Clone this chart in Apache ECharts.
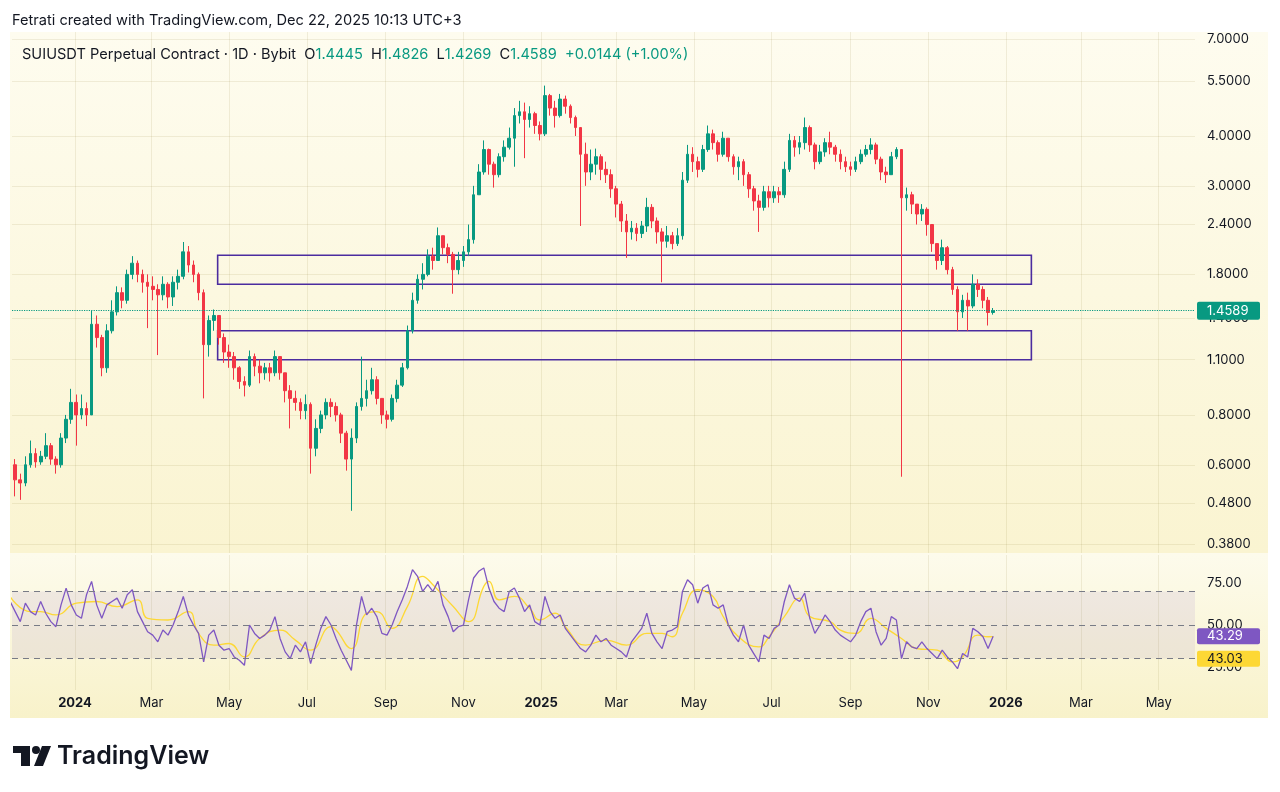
<!DOCTYPE html>
<html>
<head>
<meta charset="utf-8">
<title>SUIUSDT Perpetual Contract · 1D · Bybit</title>
<script src="https://cdn.jsdelivr.net/npm/echarts@6/dist/echarts.min.js"></script>
<style>
html, body { margin: 0; padding: 0; background: #fff; }
#chart { width: 1280px; height: 792px; }
</style>
</head>
<body>
<div id="chart"></div>
<script>
// 4-day candles, first bar 2023-11-11, last 2025-12-22
var firstBar = '2023-11-11';
var barDays = 4;
var firstOpen = 0.62;
var closes = [
	0.60, 0.55, 0.54, 0.60, 0.64, 0.61, 0.63, 0.67, 0.62, 0.60,
	0.70, 0.78, 0.86, 0.80, 0.83, 0.80, 1.35, 1.25, 1.05, 1.30,
	1.45, 1.62, 1.55, 1.80, 1.92, 1.80, 1.72, 1.68, 1.65, 1.60,
	1.70, 1.58, 1.72, 1.78, 2.05, 1.90, 1.80, 1.62, 1.20, 1.38,
	1.42, 1.25, 1.15, 1.12, 1.05, 0.97, 0.95, 1.12, 1.06, 1.02,
	1.05, 1.02, 1.12, 1.02, 0.92, 0.88, 0.86, 0.82, 0.85, 0.66,
	0.74, 0.80, 0.86, 0.84, 0.80, 0.72, 0.62, 0.70, 0.84, 0.88,
	0.92, 0.98, 0.88, 0.80, 0.78, 0.88, 0.95, 1.05, 1.30, 1.55,
	1.75, 1.80, 2.00, 1.95, 2.25, 2.10, 2.02, 1.85, 1.95, 2.05,
	2.20, 2.85, 3.25, 3.70, 3.40, 3.20, 3.55, 3.75, 3.95, 4.50,
	4.60, 4.40, 4.55, 4.25, 4.05, 5.05, 4.70, 4.50, 4.95, 4.75,
	4.45, 4.20, 3.60, 3.25, 3.40, 3.55, 3.30, 3.20, 2.95, 2.70,
	2.45, 2.30, 2.35, 2.28, 2.38, 2.65, 2.45, 2.30, 2.18, 2.25,
	2.15, 2.25, 3.10, 3.60, 3.45, 3.30, 3.70, 4.05, 3.85, 3.60,
	3.95, 3.55, 3.35, 3.45, 3.20, 2.95, 2.75, 2.65, 2.90, 2.80,
	2.90, 2.85, 3.30, 3.90, 3.75, 3.85, 4.20, 3.80, 3.45, 3.65,
	3.85, 3.75, 3.60, 3.45, 3.35, 3.30, 3.45, 3.60, 3.70, 3.80,
	3.50, 3.25, 3.20, 3.55, 3.70, 2.80, 2.85, 2.70, 2.55, 2.62,
	2.40, 2.15, 1.95, 2.10, 1.85, 1.65, 1.45, 1.55, 1.50, 1.70,
	1.65, 1.55, 1.4445, 1.4589
];
var highs = [
	0.68, 0.62, 0.57, 0.63, 0.69, 0.66, 0.65, 0.72, 0.68, 0.63,
	0.72, 0.80, 0.93, 0.90, 0.90, 0.86, 1.46, 1.42, 1.27, 1.35,
	1.55, 1.68, 1.67, 1.85, 2.00, 1.95, 1.85, 1.80, 1.78, 1.70,
	1.78, 1.72, 1.78, 1.85, 2.17, 2.12, 1.95, 1.82, 1.65, 1.42,
	1.47, 1.42, 1.28, 1.20, 1.15, 1.06, 1.00, 1.16, 1.14, 1.10,
	1.08, 1.08, 1.16, 1.12, 1.02, 0.95, 0.92, 0.88, 0.90, 0.86,
	0.78, 0.82, 0.88, 0.88, 0.86, 0.81, 0.73, 0.74, 0.86, 1.12,
	0.98, 1.05, 1.00, 0.88, 0.82, 0.90, 0.98, 1.08, 1.34, 1.62,
	1.80, 1.92, 2.08, 2.10, 2.36, 2.25, 2.15, 2.05, 2.05, 2.12,
	2.40, 3.00, 3.40, 3.90, 3.72, 3.45, 3.62, 3.90, 4.20, 4.70,
	4.90, 4.85, 4.75, 4.60, 4.35, 5.35, 5.10, 4.90, 5.10, 5.05,
	4.80, 4.50, 4.20, 3.85, 3.70, 3.72, 3.60, 3.45, 3.30, 3.00,
	2.75, 2.55, 2.45, 2.42, 2.45, 2.80, 2.70, 2.50, 2.35, 2.38,
	2.30, 2.35, 3.25, 3.80, 3.75, 3.55, 3.80, 4.25, 4.15, 3.90,
	4.10, 3.95, 3.60, 3.55, 3.50, 3.25, 3.00, 2.85, 3.00, 3.00,
	3.00, 2.98, 3.45, 4.05, 4.00, 4.00, 4.45, 4.25, 3.85, 3.80,
	3.95, 4.10, 3.80, 3.70, 3.55, 3.45, 3.55, 3.70, 3.80, 3.95,
	3.85, 3.55, 3.35, 3.65, 3.75, 3.70, 2.97, 2.90, 2.70, 2.70,
	2.65, 2.35, 2.15, 2.20, 2.12, 1.88, 1.68, 1.60, 1.62, 1.80,
	1.75, 1.68, 1.58, 1.4826
];
var lows = [
	0.56, 0.50, 0.49, 0.53, 0.59, 0.59, 0.60, 0.62, 0.60, 0.57,
	0.59, 0.68, 0.76, 0.67, 0.78, 0.75, 0.80, 1.18, 1.00, 1.02,
	1.28, 1.42, 1.48, 1.52, 1.75, 1.72, 1.62, 1.32, 1.55, 1.13,
	1.55, 1.48, 1.50, 1.65, 1.75, 1.82, 1.72, 1.55, 0.88, 1.12,
	1.30, 1.20, 1.08, 1.05, 0.98, 0.93, 0.89, 0.94, 1.00, 0.96,
	0.98, 0.97, 1.00, 0.98, 0.86, 0.74, 0.82, 0.78, 0.78, 0.57,
	0.63, 0.72, 0.78, 0.79, 0.77, 0.68, 0.58, 0.46, 0.68, 0.82,
	0.84, 0.90, 0.85, 0.76, 0.74, 0.77, 0.86, 0.94, 1.04, 1.28,
	1.52, 1.65, 1.78, 1.85, 1.95, 2.02, 1.92, 1.61, 1.80, 1.88,
	2.00, 2.15, 2.85, 3.20, 3.20, 2.97, 3.15, 3.45, 3.70, 3.35,
	4.30, 3.52, 4.20, 4.05, 3.90, 4.00, 4.50, 4.20, 4.45, 4.55,
	4.30, 4.00, 2.38, 3.00, 3.10, 3.20, 3.10, 3.05, 2.80, 2.50,
	2.30, 1.98, 2.20, 2.18, 2.22, 2.30, 2.35, 2.15, 1.72, 2.10,
	2.08, 2.12, 2.20, 3.05, 3.25, 3.15, 3.25, 3.65, 3.70, 3.45,
	3.55, 3.45, 3.20, 3.10, 3.00, 2.80, 2.60, 2.30, 2.60, 2.65,
	2.72, 2.72, 2.80, 3.25, 3.55, 3.60, 3.70, 3.65, 3.30, 3.40,
	3.55, 3.60, 3.45, 3.30, 3.25, 3.18, 3.25, 3.40, 3.55, 3.60,
	3.40, 3.10, 3.05, 3.20, 3.50, 0.56, 2.60, 2.55, 2.40, 2.45,
	2.25, 2.05, 1.85, 1.90, 1.80, 1.60, 1.30, 1.40, 1.30, 1.48,
	1.58, 1.48, 1.34, 1.4269
];
// RSI 14 per bar, and its moving average read at the marked bars
var rsi = [
	64, 58, 52, 63, 58, 56, 64, 57, 52, 49,
	62, 72, 62, 56, 54, 68, 76, 62, 54, 62,
	64, 66, 60, 68, 71, 58, 52, 46, 44, 40,
	47, 44, 50, 58, 67, 56, 50, 45, 28, 44,
	47, 38, 35, 36, 31, 29, 26, 50, 45, 42,
	44, 47, 55, 42, 34, 30, 38, 34, 40, 27,
	38, 48, 55, 50, 42, 35, 29, 23, 50, 67,
	56, 60, 55, 45, 44, 50, 58, 65, 73, 83,
	79, 70, 74, 70, 76, 62, 55, 46, 49, 50,
	65, 78, 82, 84, 72, 64, 60, 58, 70, 72,
	66, 58, 62, 52, 50, 67, 58, 54, 56, 48,
	44, 40, 36, 34, 38, 44, 40, 42, 38, 36,
	34, 31, 40, 44, 48, 57, 45, 40, 36, 46,
	47, 49, 70, 77, 74, 63, 72, 74, 62, 60,
	62, 50, 44, 40, 50, 38, 33, 28, 44, 42,
	48, 50, 64, 74, 66, 64, 69, 54, 45, 50,
	56, 52, 47, 44, 42, 40, 44, 52, 58, 60,
	46, 38, 42, 55, 53, 30, 40, 37, 36, 40,
	36, 33, 30, 35, 31, 28, 24, 33, 31, 48,
	46, 43, 36, 43.29
];
var rsiMaBars = [0, 4, 6, 9, 13, 17, 21, 25, 27, 31, 35, 37, 40, 43, 46, 49, 53, 56, 59, 63,
	64, 67, 70, 72, 75, 78, 81, 83, 87, 90, 93, 94, 96, 99, 102, 104, 107, 109, 113, 117,
	121, 125, 128, 130, 132, 135, 138, 140, 143, 147, 149, 152, 155, 157, 161, 163, 166, 169, 172, 175,
	178, 182, 185, 187, 190, 192, 193];
var rsiMa = [67, 58, 58, 56, 63, 64, 61, 65, 54, 53, 58, 45, 38, 39, 31, 42, 47, 41, 35, 49,
	47, 36, 57, 58, 48, 61, 79, 74, 61, 52, 73, 76, 65, 67, 60, 53, 57, 49, 38, 41,
	38, 45, 45, 43, 57, 71, 67, 55, 43, 37, 43, 55, 66, 55, 52, 47, 45, 54, 48, 42,
	36, 35, 28, 31, 44, 43, 43.03];

var priceTicks = [0.38, 0.48, 0.6, 0.8, 1.1, 1.4, 1.8, 2.4, 3, 4, 5.5, 7];
var rsiTicks = [25, 50, 75];
var rsiLevels = [70, 50, 30];
var monthTicks = ['2024-01-01', '2024-03-01', '2024-05-01', '2024-07-01', '2024-09-01', '2024-11-01',
	'2025-01-01', '2025-03-01', '2025-05-01', '2025-07-01', '2025-09-01', '2025-11-01',
	'2026-01-01', '2026-03-01', '2026-05-01'];
var monthNames = ['Jan', 'Feb', 'Mar', 'Apr', 'May', 'Jun', 'Jul', 'Aug', 'Sep', 'Oct', 'Nov', 'Dec'];
var zoneFrom = '2024-04-22', zoneTo = '2026-01-21';
var upperZone = [2.01, 1.70];
var lowerZone = [1.30, 1.10];
var lastPrice = 1.4589;
var ohlc = ['1.4445', '1.4826', '1.4269', '1.4589'];
var change = '+0.0144 (+1.00%)';

var DAY = 86400000;
var FONT = 'Inter, "Noto Sans", sans-serif';
var TEXT = '#131722';
var UP = '#089981', DOWN = '#F23645';
var GRIDLINE = 'rgba(150,130,60,0.13)';
var NOLINE = 'rgba(0,0,0,0)';

function toTime(s) { return Date.parse(s); }
function barTime(i) { return toTime(firstBar) + i * barDays * DAY; }

var axisMin = Date.UTC(2023, 10, 12, 12);
var axisMax = axisMin + 929 * DAY;
var monthTimes = monthTicks.map(toTime);

var candles = closes.map(function (c, i) {
	var o = i === 0 ? firstOpen : closes[i - 1];
	return [barTime(i), o, c, lows[i], highs[i]];
});
var rsiData = rsi.map(function (v, i) { return [barTime(i), v]; });
var rsiMaData = rsiMaBars.map(function (k, j) { return [barTime(k), rsiMa[j]]; });

function dateLabel(v) {
	var d = new Date(v);
	var m = d.getUTCMonth();
	return m === 0 ? '{b|' + d.getUTCFullYear() + '}' : monthNames[m];
}

var chart = echarts.init(document.getElementById('chart'), null, { renderer: 'canvas' });

var option = {
	backgroundColor: '#ffffff',
	animation: false,
	textStyle: { fontFamily: FONT },
	title: [{
		text: 'Fetrati created with TradingView.com, Dec 22, 2025 10:13 UTC+3',
		left: 7, top: 8,
		textStyle: { fontSize: 14.6, fontWeight: 'normal', color: TEXT, fontFamily: FONT }
	}, {
		text: '{n|SUIUSDT Perpetual Contract · 1D · Bybit}  {n|O}{g|' + ohlc[0] + '}  {n|H}{g|' + ohlc[1] +
			'}  {n|L}{g|' + ohlc[2] + '}  {n|C}{g|' + ohlc[3] + '}  {g|' + change + '}',
		left: 17, top: 42,
		textStyle: {
			fontSize: 14.6, fontWeight: 'normal', fontFamily: FONT,
			rich: {
				n: { color: TEXT, fontSize: 14.6, fontFamily: FONT },
				g: { color: UP, fontSize: 14.6, fontFamily: FONT }
			}
		}
	}],
	graphic: [
		{ type: 'rect', z: -10, silent: true, shape: { x: 10, y: 32, width: 1258, height: 521 },
			style: { fill: new echarts.graphic.LinearGradient(0, 0, 0, 1, [
				{ offset: 0, color: '#fefcef' }, { offset: 1, color: '#faf4d1' }]) } },
		{ type: 'rect', z: -10, silent: true, shape: { x: 10, y: 553, width: 1258, height: 165 },
			style: { fill: new echarts.graphic.LinearGradient(0, 0, 0, 1, [
				{ offset: 0, color: '#fdfbec' }, { offset: 1, color: '#f8f2ca' }]) } },
		// TradingView logo
		{ type: 'rect', silent: true, shape: { x: 13, y: 746, width: 17, height: 7 }, style: { fill: TEXT } },
		{ type: 'rect', silent: true, shape: { x: 21, y: 746, width: 9, height: 20 }, style: { fill: TEXT } },
		{ type: 'circle', silent: true, shape: { cx: 36, cy: 750, r: 4 }, style: { fill: TEXT } },
		{ type: 'polygon', silent: true, shape: { points: [[42, 746], [51, 746], [43, 766], [34, 766]] }, style: { fill: TEXT } },
		{ type: 'text', silent: true, x: 57, y: 756,
			style: { text: 'TradingView', fill: TEXT, font: '600 25px ' + FONT, textVerticalAlign: 'middle' } }
	],
	grid: [
		{ left: 12, right: 85, top: 32, height: 521 },
		{ left: 12, right: 85, top: 555, height: 135 }
	],
	xAxis: [{
		type: 'value', gridIndex: 0, min: axisMin, max: axisMax,
		axisLine: { show: false },
		axisTick: { show: false, customValues: monthTimes },
		axisLabel: { show: false, customValues: monthTimes },
		splitLine: { show: true, lineStyle: { color: GRIDLINE, width: 1 } }
	}, {
		type: 'value', gridIndex: 1, min: axisMin, max: axisMax,
		axisLine: { show: false },
		axisTick: { show: false, customValues: monthTimes },
		splitLine: { show: true, lineStyle: { color: GRIDLINE, width: 1 } },
		axisLabel: {
			customValues: monthTimes,
			margin: 7,
			color: TEXT, fontSize: 13, fontFamily: FONT,
			formatter: dateLabel,
			rich: { b: { fontWeight: 'bold', fontSize: 13, color: TEXT, fontFamily: FONT } }
		}
	}],
	yAxis: [{
		type: 'log', logBase: 10, gridIndex: 0, position: 'right',
		min: 0.3606, max: 7.29,
		axisLine: { show: false },
		axisTick: { show: false, customValues: priceTicks },
		axisLabel: {
			customValues: priceTicks, margin: 12,
			color: TEXT, fontSize: 13, fontFamily: FONT,
			formatter: function (v) { return Number(v).toFixed(4); }
		},
		splitLine: { show: true, lineStyle: { color: GRIDLINE, width: 1 } }
	}, {
		type: 'value', gridIndex: 1, position: 'right',
		min: 11.3, max: 91.7,
		axisLine: { show: false },
		axisTick: { show: false, customValues: rsiTicks },
		axisLabel: {
			customValues: rsiTicks, margin: 12,
			color: TEXT, fontSize: 13, fontFamily: FONT,
			formatter: function (v) { return Number(v).toFixed(2); }
		},
		splitLine: { show: false }
	}],
	series: [{
		name: 'SUIUSDT',
		type: 'candlestick',
		xAxisIndex: 0, yAxisIndex: 0,
		data: candles,
		encode: { x: 0, y: [1, 2, 3, 4] },
		barWidth: 3.2,
		itemStyle: { color: UP, color0: DOWN, borderColor: UP, borderColor0: DOWN, borderWidth: 1 },
		markArea: {
			silent: true,
			itemStyle: { color: 'rgba(0,0,0,0)', borderColor: '#4b2c9f', borderWidth: 1.6 },
			data: [
				[{ xAxis: toTime(zoneFrom), yAxis: upperZone[0] }, { xAxis: toTime(zoneTo), yAxis: upperZone[1] }],
				[{ xAxis: toTime(zoneFrom), yAxis: lowerZone[0] }, { xAxis: toTime(zoneTo), yAxis: lowerZone[1] }]
			]
		},
		markLine: {
			silent: true, symbol: 'none',
			lineStyle: { color: UP, type: 'dotted', width: 1.2 },
			label: {
				show: true, position: 'end', distance: 2,
				formatter: lastPrice.toFixed(4),
				color: '#fff', backgroundColor: UP, fontSize: 13, fontFamily: FONT,
				padding: [3, 8, 2, 10], width: 45, borderRadius: 2
			},
			data: [{ yAxis: lastPrice }]
		}
	}, {
		name: 'RSI',
		type: 'line',
		xAxisIndex: 1, yAxisIndex: 1,
		data: rsiData,
		showSymbol: false,
		lineStyle: { color: '#7E57C2', width: 1.3 },
		itemStyle: { color: '#7E57C2' },
		z: 3,
		markArea: {
			silent: true,
			itemStyle: { color: 'rgba(126,87,194,0.10)' },
			data: [[{ yAxis: rsiLevels[2] }, { yAxis: rsiLevels[0] }]]
		},
		markLine: {
			silent: true, symbol: 'none',
			lineStyle: { color: '#787B86', type: [6, 5], width: 1 },
			label: { show: false },
			data: rsiLevels.map(function (v) { return { yAxis: v }; }).concat([{
				yAxis: rsi[rsi.length - 1],
				lineStyle: { color: NOLINE, width: 0.1 },
				label: {
					show: true, position: 'end', distance: 2,
					formatter: rsi[rsi.length - 1].toFixed(2),
					color: '#fff', backgroundColor: '#7E57C2', fontSize: 13, fontFamily: FONT,
					padding: [2, 8, 1, 10], width: 45, borderRadius: 2
				}
			}])
		}
	}, {
		name: 'RSI MA',
		type: 'line',
		xAxisIndex: 1, yAxisIndex: 1,
		data: rsiMaData,
		smooth: 0.5,
		showSymbol: false,
		lineStyle: { color: '#FDD835', width: 1.3 },
		itemStyle: { color: '#FDD835' },
		z: 2,
		markLine: {
			silent: true, symbol: 'none',
			lineStyle: { color: NOLINE, width: 0.1 },
			label: {
				show: true, position: 'end', distance: 2, offset: [0, 22],
				formatter: rsiMa[rsiMa.length - 1].toFixed(2),
				color: TEXT, backgroundColor: '#FDD835', fontSize: 13, fontFamily: FONT,
				padding: [2, 8, 1, 10], width: 45, borderRadius: 2
			},
			data: [{ yAxis: rsiMa[rsiMa.length - 1] }]
		}
	}]
};

chart.setOption(option);
window.addEventListener('resize', chart.resize);
</script>
</body>
</html>
